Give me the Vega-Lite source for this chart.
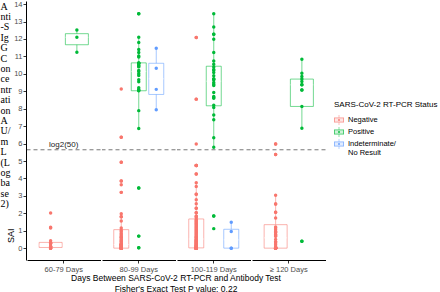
{
  "$schema": "https://vega.github.io/schema/vega-lite/v6.json",
  "autosize": {"type": "pad"},
  "padding": 0,
  "background": "white",
  "title": {"text": "SAI", "orient": "left", "anchor": "start", "frame": "bounds", "offset": -16, "dx": 50, "fontSize": 9, "fontWeight": "normal", "font": "Liberation Sans", "color": "black"},
  "data": {"values": [
    {"days":"60-79 Days","status":"Negative","value":0},{"days":"60-79 Days","status":"Negative","value":0},{"days":"60-79 Days","status":"Negative","value":0},{"days":"60-79 Days","status":"Negative","value":0},{"days":"60-79 Days","status":"Negative","value":0.05},{"days":"60-79 Days","status":"Negative","value":0.1},{"days":"60-79 Days","status":"Negative","value":0.1},{"days":"60-79 Days","status":"Negative","value":0.1},{"days":"60-79 Days","status":"Negative","value":0.25},{"days":"60-79 Days","status":"Negative","value":0.3},{"days":"60-79 Days","status":"Negative","value":0.3},{"days":"60-79 Days","status":"Negative","value":0.3},{"days":"60-79 Days","status":"Negative","value":0.42},{"days":"60-79 Days","status":"Negative","value":1.15},{"days":"60-79 Days","status":"Negative","value":1.2},{"days":"60-79 Days","status":"Negative","value":2.02},
    {"days":"60-79 Days","status":"Positive","value":11.24},{"days":"60-79 Days","status":"Positive","value":12.1},{"days":"60-79 Days","status":"Positive","value":12.51},
    {"days":"80-99 Days","status":"Negative","value":0},{"days":"80-99 Days","status":"Negative","value":0},{"days":"80-99 Days","status":"Negative","value":0},{"days":"80-99 Days","status":"Negative","value":0},{"days":"80-99 Days","status":"Negative","value":0},{"days":"80-99 Days","status":"Negative","value":0},{"days":"80-99 Days","status":"Negative","value":0},{"days":"80-99 Days","status":"Negative","value":0},{"days":"80-99 Days","status":"Negative","value":0},{"days":"80-99 Days","status":"Negative","value":0},{"days":"80-99 Days","status":"Negative","value":0},{"days":"80-99 Days","status":"Negative","value":0},{"days":"80-99 Days","status":"Negative","value":0},{"days":"80-99 Days","status":"Negative","value":0},{"days":"80-99 Days","status":"Negative","value":0},
    {"days":"80-99 Days","status":"Negative","value":0},{"days":"80-99 Days","status":"Negative","value":0.02},{"days":"80-99 Days","status":"Negative","value":0.02},{"days":"80-99 Days","status":"Negative","value":0.02},{"days":"80-99 Days","status":"Negative","value":0.05},{"days":"80-99 Days","status":"Negative","value":0.08},{"days":"80-99 Days","status":"Negative","value":0.1},{"days":"80-99 Days","status":"Negative","value":0.1},{"days":"80-99 Days","status":"Negative","value":0.12},{"days":"80-99 Days","status":"Negative","value":0.15},{"days":"80-99 Days","status":"Negative","value":0.18},{"days":"80-99 Days","status":"Negative","value":0.2},{"days":"80-99 Days","status":"Negative","value":0.2},{"days":"80-99 Days","status":"Negative","value":0.2},{"days":"80-99 Days","status":"Negative","value":0.2},
    {"days":"80-99 Days","status":"Negative","value":0.22},{"days":"80-99 Days","status":"Negative","value":0.25},{"days":"80-99 Days","status":"Negative","value":0.3},{"days":"80-99 Days","status":"Negative","value":0.36},{"days":"80-99 Days","status":"Negative","value":0.4},{"days":"80-99 Days","status":"Negative","value":0.45},{"days":"80-99 Days","status":"Negative","value":0.5},{"days":"80-99 Days","status":"Negative","value":0.59},{"days":"80-99 Days","status":"Negative","value":0.59},{"days":"80-99 Days","status":"Negative","value":0.65},{"days":"80-99 Days","status":"Negative","value":0.7},{"days":"80-99 Days","status":"Negative","value":0.78},{"days":"80-99 Days","status":"Negative","value":0.85},{"days":"80-99 Days","status":"Negative","value":0.95},{"days":"80-99 Days","status":"Negative","value":1.03},
    {"days":"80-99 Days","status":"Negative","value":1.16},{"days":"80-99 Days","status":"Negative","value":1.56},{"days":"80-99 Days","status":"Negative","value":1.8},{"days":"80-99 Days","status":"Negative","value":1.8},{"days":"80-99 Days","status":"Negative","value":1.98},{"days":"80-99 Days","status":"Negative","value":3.2},{"days":"80-99 Days","status":"Negative","value":3.2},{"days":"80-99 Days","status":"Negative","value":3.64},{"days":"80-99 Days","status":"Negative","value":3.85},{"days":"80-99 Days","status":"Negative","value":3.85},{"days":"80-99 Days","status":"Negative","value":4.93},{"days":"80-99 Days","status":"Negative","value":4.93},{"days":"80-99 Days","status":"Negative","value":6.36},{"days":"80-99 Days","status":"Negative","value":6.36},{"days":"80-99 Days","status":"Negative","value":9.13},
    {"days":"80-99 Days","status":"Positive","value":0.02},{"days":"80-99 Days","status":"Positive","value":0.02},{"days":"80-99 Days","status":"Positive","value":0.69},{"days":"80-99 Days","status":"Positive","value":0.69},{"days":"80-99 Days","status":"Positive","value":3.45},{"days":"80-99 Days","status":"Positive","value":3.45},{"days":"80-99 Days","status":"Positive","value":6.86},{"days":"80-99 Days","status":"Positive","value":7.89},{"days":"80-99 Days","status":"Positive","value":9.03},{"days":"80-99 Days","status":"Positive","value":9.05},{"days":"80-99 Days","status":"Positive","value":9.1},{"days":"80-99 Days","status":"Positive","value":9.2},{"days":"80-99 Days","status":"Positive","value":9.54},{"days":"80-99 Days","status":"Positive","value":9.66},{"days":"80-99 Days","status":"Positive","value":9.9},{"days":"80-99 Days","status":"Positive","value":10.0},{"days":"80-99 Days","status":"Positive","value":10.13},{"days":"80-99 Days","status":"Positive","value":10.2},{"days":"80-99 Days","status":"Positive","value":10.4},{"days":"80-99 Days","status":"Positive","value":10.45},{"days":"80-99 Days","status":"Positive","value":10.5},{"days":"80-99 Days","status":"Positive","value":10.6},{"days":"80-99 Days","status":"Positive","value":10.6},{"days":"80-99 Days","status":"Positive","value":10.62},{"days":"80-99 Days","status":"Positive","value":10.63},{"days":"80-99 Days","status":"Positive","value":10.96},{"days":"80-99 Days","status":"Positive","value":11.03},{"days":"80-99 Days","status":"Positive","value":11.22},{"days":"80-99 Days","status":"Positive","value":11.4},{"days":"80-99 Days","status":"Positive","value":11.8},{"days":"80-99 Days","status":"Positive","value":12.1},{"days":"80-99 Days","status":"Positive","value":13.45},{"days":"80-99 Days","status":"Positive","value":13.45},
    {"days":"80-99 Days","status":"Indeterminate/No Result","value":7.94},{"days":"80-99 Days","status":"Indeterminate/No Result","value":9.11},{"days":"80-99 Days","status":"Indeterminate/No Result","value":10.32},{"days":"80-99 Days","status":"Indeterminate/No Result","value":11.47},
    {"days":"100-119 Days","status":"Negative","value":0},{"days":"100-119 Days","status":"Negative","value":0},{"days":"100-119 Days","status":"Negative","value":0},{"days":"100-119 Days","status":"Negative","value":0},{"days":"100-119 Days","status":"Negative","value":0},{"days":"100-119 Days","status":"Negative","value":0},{"days":"100-119 Days","status":"Negative","value":0},{"days":"100-119 Days","status":"Negative","value":0},{"days":"100-119 Days","status":"Negative","value":0},{"days":"100-119 Days","status":"Negative","value":0},{"days":"100-119 Days","status":"Negative","value":0},{"days":"100-119 Days","status":"Negative","value":0},{"days":"100-119 Days","status":"Negative","value":0},{"days":"100-119 Days","status":"Negative","value":0},{"days":"100-119 Days","status":"Negative","value":0},{"days":"100-119 Days","status":"Negative","value":0},{"days":"100-119 Days","status":"Negative","value":0},{"days":"100-119 Days","status":"Negative","value":0},{"days":"100-119 Days","status":"Negative","value":0},{"days":"100-119 Days","status":"Negative","value":0},{"days":"100-119 Days","status":"Negative","value":0},{"days":"100-119 Days","status":"Negative","value":0},{"days":"100-119 Days","status":"Negative","value":0},{"days":"100-119 Days","status":"Negative","value":0},
    {"days":"100-119 Days","status":"Negative","value":0.02},{"days":"100-119 Days","status":"Negative","value":0.03},{"days":"100-119 Days","status":"Negative","value":0.05},{"days":"100-119 Days","status":"Negative","value":0.05},{"days":"100-119 Days","status":"Negative","value":0.08},{"days":"100-119 Days","status":"Negative","value":0.1},{"days":"100-119 Days","status":"Negative","value":0.1},{"days":"100-119 Days","status":"Negative","value":0.12},{"days":"100-119 Days","status":"Negative","value":0.15},{"days":"100-119 Days","status":"Negative","value":0.15},{"days":"100-119 Days","status":"Negative","value":0.18},{"days":"100-119 Days","status":"Negative","value":0.2},{"days":"100-119 Days","status":"Negative","value":0.22},{"days":"100-119 Days","status":"Negative","value":0.25},{"days":"100-119 Days","status":"Negative","value":0.28},{"days":"100-119 Days","status":"Negative","value":0.3},{"days":"100-119 Days","status":"Negative","value":0.32},{"days":"100-119 Days","status":"Negative","value":0.35},{"days":"100-119 Days","status":"Negative","value":0.38},{"days":"100-119 Days","status":"Negative","value":0.4},{"days":"100-119 Days","status":"Negative","value":0.42},{"days":"100-119 Days","status":"Negative","value":0.45},{"days":"100-119 Days","status":"Negative","value":0.48},{"days":"100-119 Days","status":"Negative","value":0.5},
    {"days":"100-119 Days","status":"Negative","value":0.55},{"days":"100-119 Days","status":"Negative","value":0.6},{"days":"100-119 Days","status":"Negative","value":0.62},{"days":"100-119 Days","status":"Negative","value":0.65},{"days":"100-119 Days","status":"Negative","value":0.7},{"days":"100-119 Days","status":"Negative","value":0.75},{"days":"100-119 Days","status":"Negative","value":0.8},{"days":"100-119 Days","status":"Negative","value":0.85},{"days":"100-119 Days","status":"Negative","value":0.9},{"days":"100-119 Days","status":"Negative","value":0.95},{"days":"100-119 Days","status":"Negative","value":1.0},{"days":"100-119 Days","status":"Negative","value":1.05},{"days":"100-119 Days","status":"Negative","value":1.1},{"days":"100-119 Days","status":"Negative","value":1.15},{"days":"100-119 Days","status":"Negative","value":1.2},{"days":"100-119 Days","status":"Negative","value":1.25},{"days":"100-119 Days","status":"Negative","value":1.3},{"days":"100-119 Days","status":"Negative","value":1.35},{"days":"100-119 Days","status":"Negative","value":1.4},{"days":"100-119 Days","status":"Negative","value":1.45},{"days":"100-119 Days","status":"Negative","value":1.5},{"days":"100-119 Days","status":"Negative","value":1.55},{"days":"100-119 Days","status":"Negative","value":1.6},{"days":"100-119 Days","status":"Negative","value":1.65},
    {"days":"100-119 Days","status":"Negative","value":1.75},{"days":"100-119 Days","status":"Negative","value":1.83},{"days":"100-119 Days","status":"Negative","value":1.83},{"days":"100-119 Days","status":"Negative","value":2.03},{"days":"100-119 Days","status":"Negative","value":2.03},{"days":"100-119 Days","status":"Negative","value":2.29},{"days":"100-119 Days","status":"Negative","value":2.29},{"days":"100-119 Days","status":"Negative","value":2.55},{"days":"100-119 Days","status":"Negative","value":2.78},{"days":"100-119 Days","status":"Negative","value":3.09},{"days":"100-119 Days","status":"Negative","value":3.09},{"days":"100-119 Days","status":"Negative","value":3.54},{"days":"100-119 Days","status":"Negative","value":3.75},{"days":"100-119 Days","status":"Negative","value":4.25},{"days":"100-119 Days","status":"Negative","value":4.25},{"days":"100-119 Days","status":"Negative","value":4.74},{"days":"100-119 Days","status":"Negative","value":4.74},{"days":"100-119 Days","status":"Negative","value":4.74},{"days":"100-119 Days","status":"Negative","value":4.74},{"days":"100-119 Days","status":"Negative","value":5.98},{"days":"100-119 Days","status":"Negative","value":8.55},{"days":"100-119 Days","status":"Negative","value":8.55},{"days":"100-119 Days","status":"Negative","value":12.08},{"days":"100-119 Days","status":"Negative","value":12.08},
    {"days":"100-119 Days","status":"Positive","value":1.12},{"days":"100-119 Days","status":"Positive","value":1.85},{"days":"100-119 Days","status":"Positive","value":1.85},{"days":"100-119 Days","status":"Positive","value":5.79},{"days":"100-119 Days","status":"Positive","value":6.33},{"days":"100-119 Days","status":"Positive","value":7.37},{"days":"100-119 Days","status":"Positive","value":7.64},{"days":"100-119 Days","status":"Positive","value":8.07},{"days":"100-119 Days","status":"Positive","value":8.2},{"days":"100-119 Days","status":"Positive","value":8.6},{"days":"100-119 Days","status":"Positive","value":8.65},{"days":"100-119 Days","status":"Positive","value":8.7},{"days":"100-119 Days","status":"Positive","value":8.93},{"days":"100-119 Days","status":"Positive","value":9.33},{"days":"100-119 Days","status":"Positive","value":9.4},{"days":"100-119 Days","status":"Positive","value":9.5},{"days":"100-119 Days","status":"Positive","value":9.66},{"days":"100-119 Days","status":"Positive","value":9.69},{"days":"100-119 Days","status":"Positive","value":9.72},{"days":"100-119 Days","status":"Positive","value":9.89},{"days":"100-119 Days","status":"Positive","value":10.08},{"days":"100-119 Days","status":"Positive","value":10.2},{"days":"100-119 Days","status":"Positive","value":10.25},{"days":"100-119 Days","status":"Positive","value":10.4},{"days":"100-119 Days","status":"Positive","value":10.55},{"days":"100-119 Days","status":"Positive","value":10.74},{"days":"100-119 Days","status":"Positive","value":11.22},{"days":"100-119 Days","status":"Positive","value":11.98},{"days":"100-119 Days","status":"Positive","value":12.27},{"days":"100-119 Days","status":"Positive","value":12.27},{"days":"100-119 Days","status":"Positive","value":12.69},{"days":"100-119 Days","status":"Positive","value":13.45},
    {"days":"100-119 Days","status":"Indeterminate/No Result","value":0},{"days":"100-119 Days","status":"Indeterminate/No Result","value":0},{"days":"100-119 Days","status":"Indeterminate/No Result","value":0.95},{"days":"100-119 Days","status":"Indeterminate/No Result","value":1.48},
    {"days":"≥ 120 Days","status":"Negative","value":0},{"days":"≥ 120 Days","status":"Negative","value":0},{"days":"≥ 120 Days","status":"Negative","value":0},{"days":"≥ 120 Days","status":"Negative","value":0},{"days":"≥ 120 Days","status":"Negative","value":0},{"days":"≥ 120 Days","status":"Negative","value":0},{"days":"≥ 120 Days","status":"Negative","value":0},{"days":"≥ 120 Days","status":"Negative","value":0},{"days":"≥ 120 Days","status":"Negative","value":0},{"days":"≥ 120 Days","status":"Negative","value":0},{"days":"≥ 120 Days","status":"Negative","value":0},
    {"days":"≥ 120 Days","status":"Negative","value":0.02},{"days":"≥ 120 Days","status":"Negative","value":0.04},{"days":"≥ 120 Days","status":"Negative","value":0.04},{"days":"≥ 120 Days","status":"Negative","value":0.1},{"days":"≥ 120 Days","status":"Negative","value":0.2},{"days":"≥ 120 Days","status":"Negative","value":0.3},{"days":"≥ 120 Days","status":"Negative","value":0.36},{"days":"≥ 120 Days","status":"Negative","value":0.36},{"days":"≥ 120 Days","status":"Negative","value":0.5},{"days":"≥ 120 Days","status":"Negative","value":0.68},
    {"days":"≥ 120 Days","status":"Negative","value":0.7},{"days":"≥ 120 Days","status":"Negative","value":0.75},{"days":"≥ 120 Days","status":"Negative","value":0.8},{"days":"≥ 120 Days","status":"Negative","value":0.9},{"days":"≥ 120 Days","status":"Negative","value":0.93},{"days":"≥ 120 Days","status":"Negative","value":0.95},{"days":"≥ 120 Days","status":"Negative","value":1.05},{"days":"≥ 120 Days","status":"Negative","value":1.15},{"days":"≥ 120 Days","status":"Negative","value":1.22},
    {"days":"≥ 120 Days","status":"Negative","value":1.73},{"days":"≥ 120 Days","status":"Negative","value":2.06},{"days":"≥ 120 Days","status":"Negative","value":2.06},{"days":"≥ 120 Days","status":"Negative","value":2.53},{"days":"≥ 120 Days","status":"Negative","value":2.53},{"days":"≥ 120 Days","status":"Negative","value":3.03},{"days":"≥ 120 Days","status":"Negative","value":5.37},{"days":"≥ 120 Days","status":"Negative","value":5.37},{"days":"≥ 120 Days","status":"Negative","value":5.98},{"days":"≥ 120 Days","status":"Negative","value":5.98},
    {"days":"≥ 120 Days","status":"Positive","value":0.4},{"days":"≥ 120 Days","status":"Positive","value":0.4},{"days":"≥ 120 Days","status":"Positive","value":6.88},{"days":"≥ 120 Days","status":"Positive","value":8.13},{"days":"≥ 120 Days","status":"Positive","value":9.07},{"days":"≥ 120 Days","status":"Positive","value":9.07},{"days":"≥ 120 Days","status":"Positive","value":9.37},{"days":"≥ 120 Days","status":"Positive","value":9.37},{"days":"≥ 120 Days","status":"Positive","value":9.56},{"days":"≥ 120 Days","status":"Positive","value":9.7},{"days":"≥ 120 Days","status":"Positive","value":9.85},{"days":"≥ 120 Days","status":"Positive","value":10.04},{"days":"≥ 120 Days","status":"Positive","value":10.84}
  ]},
  "facet": {
    "column": {
      "field": "days", "type": "nominal",
      "sort": ["60-79 Days", "80-99 Days", "100-119 Days", "≥ 120 Days"],
      "title": ["Days Between SARS-CoV-2 RT-PCR and Antibody Test", "Fisher's Exact Test P value: 0.22"],
      "header": {"labels": false, "titleOrient": "bottom", "titleFont": "Liberation Sans", "titleFontSize": 8.5, "titleFontWeight": "normal", "titleColor": "black", "titlePadding": -9, "titleLineHeight": 10.5}
    }
  },
  "spacing": 0,
  "resolve": {"scale": {"x": "independent", "xOffset": "independent"}, "axis": {"x": "independent"}},
  "spec": {
    "width": 73.5,
    "height": 259,
    "encoding": {
      "x": {"field": "days", "type": "nominal", "scale": {"paddingInner": 0, "paddingOuter": 0.2}, "axis": {"title": null, "labelAngle": 0, "labelFontSize": 7.5, "labelColor": "#4D4D4D", "tickSize": 3, "tickColor": "#333333", "domainColor": "#000000", "labelPadding": 2}},
      "y": {"field": "value", "type": "quantitative", "scale": {"domain": [-0.68, 14.18], "nice": false, "zero": false},
        "axis": {"values": [0,1,2,3,4,5,6,7,8,9,10,11,12,13,14], "title": ["A","nti","-S","Ig","G","C","on","ce","ntr","ati","on","A","U/","m","L","(L","og","ba","se","2)"], "titleAngle": 0, "titleAlign": "left", "titleBaseline": "top", "titleX": -26, "titleY": 0, "titleFont": "Liberation Serif", "titleFontSize": 10, "titleFontWeight": "normal", "titleColor": "black", "titleLineHeight": 10.4, "labelFontSize": 7.5, "labelColor": "#4D4D4D", "tickSize": 3, "tickColor": "#333333", "domainColor": "#000000", "labelPadding": 1}}
    },
    "layer": [
      {
        "transform": [{"filter": {"field": "days", "oneOf": ["80-99 Days", "100-119 Days"]}}],
        "mark": {"type": "boxplot", "extent": 1.5, "size": 15, "outliers": false, "box": {"filled": false, "fill": "transparent", "strokeOpacity": 0.55, "strokeWidth": 1}, "rule": {"stroke": {"expr": "scale('color', datum.status)"}, "opacity": 0.55}, "median": {"opacity": 0.65, "strokeWidth": 1.5}, "ticks": false},
        "encoding": {
          "xOffset": {"field": "status", "type": "nominal", "sort": ["Negative", "Positive", "Indeterminate/No Result"], "scale": {"paddingInner": 0, "paddingOuter": 0}},
          "color": {"field": "status", "type": "nominal", "scale": {"domain": ["Negative", "Positive", "Indeterminate/No Result"], "range": ["#F8766D", "#00BA38", "#619CFF"]},
            "legend": {"orient": "none", "legendX": 307, "legendY": 100, "title": "SARS-CoV-2 RT-PCR Status", "titleFontSize": 8, "titleFontWeight": "normal", "titleColor": "black", "titlePadding": 6, "labelFontSize": 7.5, "labelColor": "black", "rowPadding": 2, "symbolSize": 100, "symbolStrokeWidth": 0, "symbolOpacity": 0.75,
              "symbolType": "M-1,-0.5H1V0.5H-1Z M-0.82,-0.32V0.32H0.82V-0.32Z M-0.82,-0.06H0.82V0.06H-0.82Z M-0.06,-1H0.06V-0.5H-0.06Z M-0.06,0.5H0.06V1H-0.06Z M-0.2,-0.2H0.2V0.2H-0.2Z",
              "labelExpr": "datum.label == 'Indeterminate/No Result' ? ['Indeterminate/', 'No Result'] : datum.label",
              "encode": {"labels": {"update": {"lineHeight": {"value": 8.5}}}}}}
        }
      },
      {
        "transform": [{"filter": {"field": "days", "oneOf": ["60-79 Days", "≥ 120 Days"]}}],
        "mark": {"type": "boxplot", "extent": 1.5, "size": 23, "outliers": false, "box": {"filled": false, "fill": "transparent", "strokeOpacity": 0.55, "strokeWidth": 1}, "rule": {"stroke": {"expr": "scale('color', datum.status)"}, "opacity": 0.55}, "median": {"opacity": 0.65, "strokeWidth": 1.5}, "ticks": false},
        "encoding": {
          "xOffset": {"field": "status", "type": "nominal", "sort": ["Negative", "Positive", "Indeterminate/No Result"], "scale": {"paddingInner": 0, "paddingOuter": 0}},
          "color": {"field": "status", "type": "nominal"}
        }
      },
      {
        "mark": {"type": "point", "filled": true, "size": 12, "opacity": 1, "strokeWidth": 0},
        "encoding": {
          "xOffset": {"field": "status", "type": "nominal", "sort": ["Negative", "Positive", "Indeterminate/No Result"]},
          "fill": {"field": "status", "type": "nominal", "legend": null, "scale": {"domain": ["Negative", "Positive", "Indeterminate/No Result"], "range": ["#F8766D", "#00BA38", "#619CFF"]}}
        }
      },
      {
        "transform": [{"window": [{"op": "row_number", "as": "rn"}], "groupby": ["days"]}, {"filter": "datum.rn == 1"}],
        "mark": {"type": "rule", "strokeDash": [4, 3], "color": "#555555", "strokeWidth": 0.8},
        "encoding": {"y": {"datum": 5.644}, "x": null, "xOffset": null}
      },
      {
        "transform": [{"filter": "datum.days == '60-79 Days' && datum.value == 2.02"}],
        "mark": {"type": "text", "align": "center", "baseline": "bottom", "dy": -1, "fontSize": 8, "font": "Liberation Sans", "color": "#222222"},
        "encoding": {"y": {"datum": 5.644}, "text": {"value": "log2(50)"}}
      }
    ]
  },
  "config": {
    "font": "Liberation Sans",
    "view": {"stroke": null},
    "axis": {"grid": false, "labelFont": "Liberation Sans"},
    "header": {"labelFont": "Liberation Sans"}
  }
}
